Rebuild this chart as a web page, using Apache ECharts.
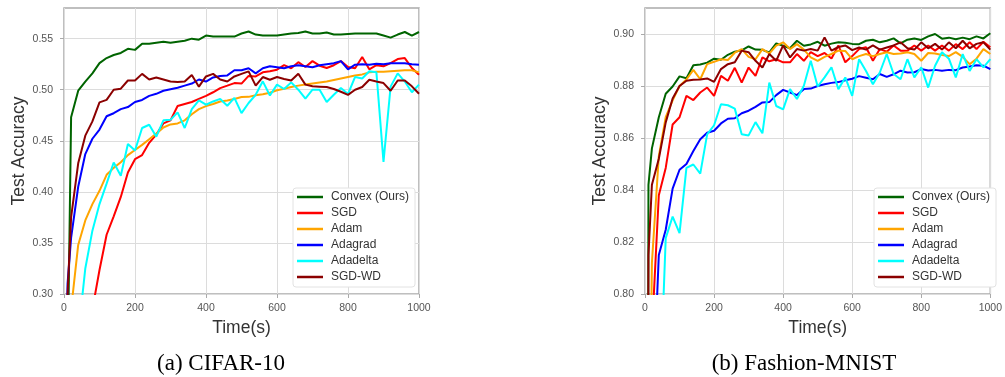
<!DOCTYPE html>
<html><head><meta charset="utf-8">
<script src="https://cdn.jsdelivr.net/npm/echarts@6/dist/echarts.min.js"></script>
<style>html,body{margin:0;padding:0;background:#fff}#c{width:1005px;height:377px}</style>
</head><body><div id="c"></div>
<script>
// ---- data ----
const timeSec = [0, 10, 20, 40, 60, 80, 100, 120, 140, 160, 180, 200, 220, 240, 260, 280, 300, 320, 340, 360, 380, 400, 420, 440, 460, 480, 500, 520, 540, 560, 580, 600, 620, 640, 660, 680, 700, 720, 740, 760, 780, 800, 820, 840, 860, 880, 900, 920, 940, 960, 980, 1000];
const seriesNames = ['Convex (Ours)', 'SGD', 'Adam', 'Adagrad', 'Adadelta', 'SGD-WD'];
const xTicks = [0, 200, 400, 600, 800, 1000];
const cifarYTicks = [0.30, 0.35, 0.40, 0.45, 0.50, 0.55];
const fmnistYTicks = [0.80, 0.82, 0.84, 0.86, 0.88, 0.90];
const captions = ['(a) CIFAR-10', '(b) Fashion-MNIST'];

// CIFAR-10
const cifarConvex = [0.10, 0.22, 0.473, 0.499, 0.508, 0.516, 0.526, 0.531, 0.534, 0.536, 0.540, 0.539, 0.545, 0.545, 0.546, 0.547, 0.546, 0.547, 0.548, 0.550, 0.549, 0.553, 0.552, 0.552, 0.552, 0.552, 0.555, 0.557, 0.554, 0.553, 0.553, 0.553, 0.554, 0.555, 0.5555, 0.557, 0.555, 0.555, 0.556, 0.554, 0.554, 0.5545, 0.555, 0.555, 0.555, 0.555, 0.553, 0.551, 0.554, 0.5565, 0.553, 0.5565];
const cifarSGD = [0.10, 0.12, 0.13, 0.20, 0.25, 0.285, 0.3235, 0.358, 0.376, 0.395, 0.419, 0.432, 0.436, 0.448, 0.456, 0.467, 0.470, 0.484, 0.486, 0.488, 0.491, 0.494, 0.4975, 0.5016, 0.504, 0.5065, 0.506, 0.5135, 0.513, 0.517, 0.518, 0.5196, 0.524, 0.521, 0.527, 0.5222, 0.528, 0.5235, 0.5213, 0.524, 0.528, 0.5222, 0.521, 0.532, 0.520, 0.524, 0.523, 0.526, 0.530, 0.531, 0.5213, 0.5147];
const cifarAdam = [0.10, 0.24, 0.285, 0.348, 0.372, 0.388, 0.401, 0.4167, 0.4235, 0.429, 0.436, 0.441, 0.446, 0.4515, 0.457, 0.463, 0.466, 0.467, 0.470, 0.476, 0.481, 0.484, 0.486, 0.4885, 0.4895, 0.491, 0.4928, 0.493, 0.4945, 0.4955, 0.497, 0.4995, 0.501, 0.5026, 0.504, 0.505, 0.506, 0.507, 0.508, 0.5095, 0.511, 0.5125, 0.514, 0.515, 0.517, 0.5175, 0.5175, 0.518, 0.5185, 0.519, 0.519, 0.517];
const cifarAdagrad = [0.10, 0.31, 0.355, 0.405, 0.437, 0.452, 0.461, 0.474, 0.477, 0.481, 0.483, 0.488, 0.490, 0.494, 0.496, 0.499, 0.5005, 0.502, 0.504, 0.506, 0.510, 0.508, 0.512, 0.5135, 0.514, 0.519, 0.519, 0.521, 0.516, 0.521, 0.523, 0.522, 0.521, 0.523, 0.524, 0.523, 0.522, 0.524, 0.525, 0.526, 0.528, 0.520, 0.5245, 0.525, 0.5245, 0.5255, 0.525, 0.526, 0.526, 0.526, 0.525, 0.5245];
const cifarAdadelta = [0.10, 0.17, 0.20, 0.26, 0.325, 0.362, 0.388, 0.408, 0.4287, 0.4157, 0.4468, 0.4405, 0.4625, 0.4657, 0.454, 0.470, 0.4705, 0.4778, 0.4625, 0.481, 0.4895, 0.4853, 0.4885, 0.491, 0.4843, 0.492, 0.4771, 0.487, 0.495, 0.5082, 0.4944, 0.505, 0.5007, 0.5072, 0.500, 0.4912, 0.500, 0.500, 0.488, 0.495, 0.5016, 0.4958, 0.5125, 0.511, 0.518, 0.517, 0.4293, 0.503, 0.516, 0.508, 0.4975, 0.505];
const cifarSGDWD = [0.10, 0.30, 0.375, 0.428, 0.455, 0.469, 0.4876, 0.490, 0.500, 0.501, 0.509, 0.509, 0.5155, 0.510, 0.512, 0.510, 0.508, 0.5075, 0.508, 0.5145, 0.503, 0.513, 0.5155, 0.510, 0.508, 0.513, 0.5155, 0.518, 0.504, 0.5124, 0.5098, 0.5124, 0.5105, 0.509, 0.5157, 0.505, 0.5033, 0.503, 0.5026, 0.5007, 0.498, 0.495, 0.500, 0.5026, 0.5098, 0.508, 0.5065, 0.499, 0.509, 0.509, 0.5033, 0.496];

// Fashion-MNIST
const fmnistConvex = [0.10, 0.842, 0.856, 0.868, 0.877, 0.8798, 0.8837, 0.883, 0.888, 0.8883, 0.889, 0.8905, 0.8901, 0.892, 0.8932, 0.8937, 0.8952, 0.894, 0.8939, 0.8929, 0.8964, 0.8955, 0.8945, 0.8974, 0.8955, 0.896, 0.897, 0.8955, 0.8963, 0.8968, 0.8966, 0.8962, 0.8961, 0.8974, 0.8978, 0.8968, 0.8974, 0.8983, 0.8964, 0.8978, 0.8983, 0.8977, 0.8991, 0.900, 0.8982, 0.8986, 0.898, 0.8986, 0.898, 0.8991, 0.8983, 0.9003];
const fmnistSGD = [0.10, 0.40, 0.785, 0.838, 0.8485, 0.8652, 0.868, 0.8762, 0.8746, 0.8775, 0.8794, 0.8762, 0.8839, 0.882, 0.887, 0.8813, 0.8871, 0.8839, 0.891, 0.8895, 0.8903, 0.8891, 0.8891, 0.8923, 0.8897, 0.893, 0.8915, 0.8927, 0.8906, 0.8956, 0.8891, 0.8915, 0.8942, 0.8949, 0.8897, 0.8942, 0.8932, 0.8956, 0.8936, 0.8936, 0.8956, 0.8936, 0.8956, 0.8936, 0.8956, 0.8936, 0.8961, 0.8942, 0.8968, 0.8942, 0.897, 0.8949];
const fmnistAdam = [0.10, 0.70, 0.812, 0.853, 0.868, 0.8745, 0.880, 0.8825, 0.8862, 0.8826, 0.8884, 0.8893, 0.8903, 0.890, 0.8928, 0.8942, 0.8912, 0.8903, 0.8942, 0.8925, 0.8955, 0.8968, 0.8942, 0.8961, 0.894, 0.891, 0.8897, 0.8912, 0.8923, 0.8936, 0.8935, 0.8903, 0.8915, 0.8923, 0.8915, 0.8923, 0.893, 0.8923, 0.8925, 0.893, 0.8923, 0.8897, 0.8927, 0.8925, 0.8919, 0.8915, 0.893, 0.8912, 0.8884, 0.8905, 0.8942, 0.8923];
const fmnistAdagrad = [0.10, 0.50, 0.75, 0.815, 0.8247, 0.8405, 0.8478, 0.850, 0.855, 0.8595, 0.862, 0.8628, 0.8656, 0.8674, 0.8676, 0.8695, 0.8705, 0.872, 0.8737, 0.8738, 0.8765, 0.8785, 0.8775, 0.8765, 0.8788, 0.879, 0.880, 0.8807, 0.8812, 0.8815, 0.8822, 0.8828, 0.8838, 0.8832, 0.8826, 0.8846, 0.8835, 0.8845, 0.8859, 0.8852, 0.8853, 0.8865, 0.886, 0.8862, 0.8859, 0.8862, 0.8861, 0.8871, 0.8875, 0.888, 0.8878, 0.8865];
const fmnistAdadelta = [0.10, 0.40, 0.60, 0.75, 0.8215, 0.8298, 0.8234, 0.8485, 0.8498, 0.8463, 0.8614, 0.8649, 0.873, 0.8726, 0.8713, 0.8614, 0.861, 0.8661, 0.8618, 0.8813, 0.8723, 0.871, 0.8788, 0.875, 0.8801, 0.8897, 0.8798, 0.8833, 0.8872, 0.8788, 0.8833, 0.8762, 0.8903, 0.8858, 0.8807, 0.8852, 0.8923, 0.8846, 0.8826, 0.8903, 0.8833, 0.8872, 0.8794, 0.8878, 0.893, 0.8905, 0.8833, 0.8923, 0.8858, 0.8903, 0.8872, 0.8903];
const fmnistSGDWD = [0.10, 0.815, 0.842, 0.852, 0.866, 0.8752, 0.880, 0.882, 0.8824, 0.8825, 0.8829, 0.8816, 0.8865, 0.8884, 0.8891, 0.8936, 0.893, 0.8897, 0.8871, 0.8923, 0.8897, 0.8956, 0.891, 0.8942, 0.8936, 0.8942, 0.8936, 0.8987, 0.8936, 0.895, 0.8956, 0.8938, 0.8948, 0.894, 0.8956, 0.894, 0.8948, 0.8956, 0.8968, 0.8945, 0.894, 0.8968, 0.8945, 0.8962, 0.894, 0.8968, 0.8945, 0.8974, 0.8945, 0.8962, 0.8968, 0.894];

// ---- chart ----
const colors = ['#006400', '#ff0000', '#ffa500', '#0000ff', '#00ffff', '#8b0000'];
const FONT = '"Liberation Sans", Arial, Helvetica, sans-serif';
const cifarSets = [cifarConvex, cifarSGD, cifarAdam, cifarAdagrad, cifarAdadelta, cifarSGDWD];
const fmnistSets = [fmnistConvex, fmnistSGD, fmnistAdam, fmnistAdagrad, fmnistAdadelta, fmnistSGDWD];

function makeSeries(values, i, g) {
  return {
    type: 'line', name: seriesNames[i], xAxisIndex: g, yAxisIndex: g,
    data: timeSec.map((t, k) => [t, values[k]]),
    symbol: 'none', showSymbol: false, clip: true,
    lineStyle: { width: 2, color: colors[i] }, itemStyle: { color: colors[i] },
    emphasis: { disabled: true }, z: 2 + i
  };
}
function xAxisCfg(g) {
  return {
    type: 'value', gridIndex: g, min: 0, max: 1000, interval: 200,
    name: 'Time(s)', nameLocation: 'middle', nameGap: 20,
    nameTextStyle: { fontSize: 17.5, color: '#333', fontFamily: FONT },
    axisLine: { show: false },
    axisTick: { show: true, length: 4, lineStyle: { color: '#aaa', width: 1 }, customValues: xTicks },
    axisLabel: { fontSize: 10.5, color: '#555', margin: 9, fontFamily: FONT, customValues: xTicks,
      alignMinLabel: 'center', alignMaxLabel: 'center',
      formatter: v => String(Math.round(v)) },
    splitLine: { show: true, lineStyle: { color: '#dcdcdc', width: 1 } }
  };
}
function yAxisCfg(g, min, max, interval, ticks) {
  return {
    type: 'value', gridIndex: g, min: min, max: max, interval: interval,
    name: 'Test Accuracy', nameLocation: 'middle', nameGap: 34,
    nameTextStyle: { fontSize: 17.5, color: '#333', fontFamily: FONT },
    axisLine: { show: false },
    axisTick: { show: true, length: 4, lineStyle: { color: '#aaa', width: 1 }, customValues: ticks },
    axisLabel: { fontSize: 10.5, color: '#555', margin: 11, fontFamily: FONT, customValues: ticks,
      formatter: v => Number(v).toFixed(2) },
    splitLine: { show: true, lineStyle: { color: '#dcdcdc', width: 1 } }
  };
}
function legendCfg(left) {
  return {
    data: seriesNames, orient: 'vertical', left: left, top: 188,
    icon: 'rect', itemWidth: 26, itemHeight: 2.5, itemGap: 2,
    selectedMode: false,
    textStyle: { fontSize: 12, color: '#333', lineHeight: 14, fontFamily: FONT, padding: [0, 0, 0, 3] },
    padding: [2, 6, 3, 4], backgroundColor: '#ffffff',
    borderColor: '#e2e2e2', borderWidth: 1, borderRadius: 3
  };
}

const chart = echarts.init(document.getElementById('c'), null, { renderer: 'canvas' });
chart.setOption({
  animation: false,
  backgroundColor: '#ffffff',
  grid: [
    { left: 64, top: 8, width: 355, height: 286, show: true, borderColor: '#aaa', borderWidth: 1.5, backgroundColor: '#fff' },
    { left: 645, top: 8, width: 355, height: 286, show: true, borderColor: '#aaa', borderWidth: 1.5, backgroundColor: '#fff' }
  ],
  xAxis: [xAxisCfg(0), xAxisCfg(1)],
  yAxis: [yAxisCfg(0, 0.30, 0.58, 0.05, cifarYTicks), yAxisCfg(1, 0.80, 0.91, 0.02, fmnistYTicks)],
  legend: [legendCfg(293), legendCfg(874)],
  series: cifarSets.map((v, i) => makeSeries(v, i, 0)).concat(fmnistSets.map((v, i) => makeSeries(v, i, 1))),
  graphic: [
    { type: 'text', x: 221, y: 364, style: { text: captions[0], font: '23px "Liberation Serif", "Times New Roman", serif', fill: '#000', align: 'center', verticalAlign: 'middle', textAlign: 'center', textVerticalAlign: 'middle' } },
    { type: 'text', x: 804, y: 364, style: { text: captions[1], font: '23px "Liberation Serif", "Times New Roman", serif', fill: '#000', align: 'center', verticalAlign: 'middle', textAlign: 'center', textVerticalAlign: 'middle' } }
  ]
});
</script></body></html>
